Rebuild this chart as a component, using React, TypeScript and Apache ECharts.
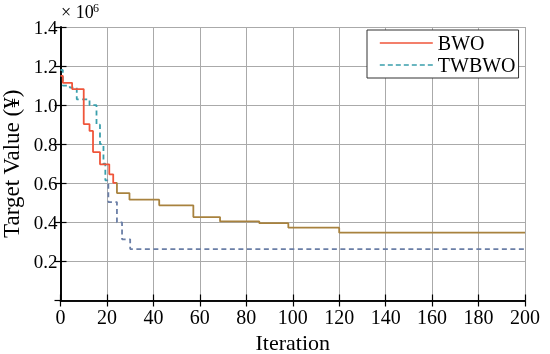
import React, { useEffect, useRef } from 'react';
import * as echarts from 'echarts';

// Values in units of 10^6 ¥
const bwoIter = [0, 1, 5, 10, 12.5, 14, 17, 21, 22.7, 24.3, 29.7, 42.5, 57.2, 68.7, 85.6, 98.1, 120, 200];
const bwoValue = [1.15, 1.114, 1.082, 0.903, 0.868, 0.76, 0.697, 0.646, 0.602, 0.55, 0.516, 0.487, 0.427, 0.405, 0.396, 0.373, 0.347, 0.347];

const twIter = [0, 1, 4, 7, 12.5, 15.5, 17, 18.5, 19.3, 20.6, 24.3, 26.5, 30, 200];
const twValue = [1.18, 1.1, 1.09, 1.03, 1.0, 0.9, 0.8, 0.7, 0.615, 0.504, 0.4, 0.313, 0.263, 0.263];

const seriesNames = ['BWO', 'TWBWO'];
const xAxisName = 'Iteration';
const yAxisName = 'Target Value (¥)';
const X_MAX = 200;
const bwoColorSwitch = 24;
const twColorSwitch = 20;

const FONT = '"Liberation Serif", "DejaVu Serif", serif';
const RED = '#ef553a';
const BROWN = '#a8823e';
const TEAL = '#3a9fac';
const SLATE = '#6a7ea6';

function split(c1: string, c2: string, at: number) {
  return new echarts.graphic.LinearGradient(0, 0, 1, 0, [
    { offset: 0, color: c1 },
    { offset: at, color: c1 },
    { offset: at, color: c2 },
    { offset: 1, color: c2 },
  ]);
}

export default function App() {
  const ref = useRef<HTMLDivElement>(null);
  useEffect(() => {
    const chart = echarts.init(ref.current!, null, { renderer: 'svg' });
    const bwoData = bwoIter.map((x, i) => [x, bwoValue[i]]);
    const twData = twIter.map((x, i) => [x, twValue[i]]);
    const axisLine = { show: true, lineStyle: { color: '#000', width: 1.6 } };
    const tick = { show: true, inside: true, length: 6, lineStyle: { color: '#000', width: 1.2 } };
    const hiddenSymbol = { color: 'rgba(0,0,0,0)', borderWidth: 0 };
    chart.setOption({
      animation: false,
      textStyle: { fontFamily: FONT },
      grid: { left: 60.5, right: 25, top: 27, bottom: 53.5, containLabel: false, outerBoundsMode: 'none' },
      xAxis: [
        {
          type: 'value', min: 0, max: X_MAX, interval: 20, position: 'bottom',
          name: xAxisName, nameLocation: 'middle', nameGap: 29,
          nameTextStyle: { fontFamily: FONT, fontSize: 22, color: '#000' },
          axisLine, axisTick: tick,
          axisLabel: { fontFamily: FONT, fontSize: 20, color: '#000', margin: 6 },
          splitLine: { show: true, lineStyle: { color: '#aaaaaa', width: 1 } },
        },
        {
          type: 'value', min: 0, max: X_MAX, interval: 20, position: 'top',
          axisLine, axisTick: tick, axisLabel: { show: false }, splitLine: { show: false },
        },
      ],
      yAxis: [
        {
          type: 'value', min: 0, max: 1.4, interval: 0.2, position: 'left',
          name: yAxisName, nameLocation: 'middle', nameGap: 35,
          nameTextStyle: { fontFamily: FONT, fontSize: 23, color: '#000' },
          axisLine, axisTick: tick,
          axisLabel: {
            fontFamily: FONT, fontSize: 19, color: '#000', margin: 3,
            showMinLabel: false,
            formatter: (v: number) => (v === 0 ? '' : v.toFixed(1)),
          },
          splitLine: { show: true, lineStyle: { color: '#aaaaaa', width: 1 } },
        },
        {
          type: 'value', min: 0, max: 1.4, interval: 0.2, position: 'right',
          axisLine, axisTick: tick, axisLabel: { show: false }, splitLine: { show: false },
        },
      ],
      legend: {
        show: true,
        orient: 'vertical',
        left: 367, top: 30,
        itemWidth: 53, itemHeight: 19, itemGap: 2,
        padding: [3, 3, 3, 12],
        backgroundColor: '#fff',
        borderColor: '#333', borderWidth: 1,
        borderRadius: 0,
        textStyle: { fontFamily: FONT, fontSize: 20, lineHeight: 19, color: '#000' },
        data: [
          { name: seriesNames[0], itemStyle: hiddenSymbol, lineStyle: { color: RED, width: 1.6, type: 'solid' } },
          { name: seriesNames[1], itemStyle: hiddenSymbol, lineStyle: { color: TEAL, width: 1.6, type: [5, 3] } },
        ],
      },
      series: [
        {
          name: seriesNames[0], type: 'line', step: 'end', data: bwoData,
          showSymbol: false, symbol: 'none',
          lineStyle: { color: split(RED, BROWN, bwoColorSwitch / X_MAX), width: 1.8 },
          itemStyle: { color: RED },
          z: 3,
        },
        {
          name: seriesNames[1], type: 'line', step: 'end', data: twData,
          showSymbol: false, symbol: 'none',
          lineStyle: { color: split(TEAL, SLATE, twColorSwitch / X_MAX), width: 1.8, type: [5, 3.5] },
          itemStyle: { color: TEAL },
          z: 2,
        },
      ],
      graphic: [
        { type: 'text', left: 61, top: 3, style: { text: '× 10', fontFamily: FONT, fontSize: 18, fill: '#000' } },
        { type: 'text', left: 93, top: 2, style: { text: '6', fontFamily: FONT, fontSize: 12, fill: '#000' } },
      ],
    });
    return () => chart.dispose();
  }, []);
  return <div ref={ref} style={{ position: 'fixed', left: 0, top: 0, width: 550, height: 354 }} />;
}
